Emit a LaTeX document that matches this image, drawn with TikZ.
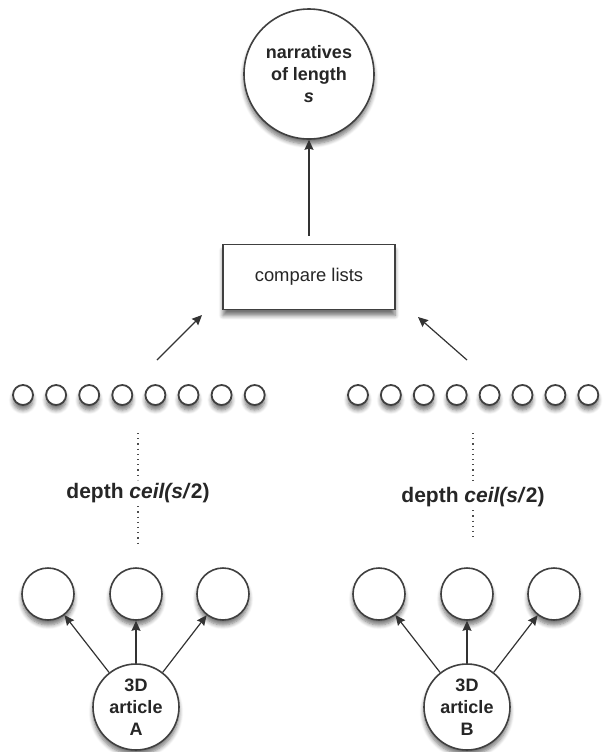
\documentclass[tikz,border=0pt]{standalone}
\usepackage{fontspec}
\setmainfont{Liberation Sans}
\usetikzlibrary{arrows.meta,shadows.blur}

\newcommand{\bubbletext}{\fontsize{9}{11}\selectfont\bfseries}

\begin{document}
\begin{tikzpicture}[x=0.5pt,y=-0.5pt,
        bubble/.style={circle,draw=black!75,line width=0.8pt,fill=white,inner sep=0pt,
            align=center,text=black!85,font=\bubbletext,
            blur shadow={shadow xshift=0pt,shadow yshift=-2.5pt,shadow blur steps=6,shadow opacity=55}},
        dot/.style={bubble,line width=0.9pt,minimum size=10pt},
        child/.style={bubble,minimum size=26pt},
        listbox/.style={rectangle,draw=black!75,line width=0.8pt,fill=white,
            minimum width=86pt,minimum height=32.5pt,text=black!85,
            font=\fontsize{9.2}{11}\selectfont,
            blur shadow={shadow xshift=0pt,shadow yshift=-3pt,shadow blur steps=6,shadow opacity=55}},
        depthlabel/.style={text=black!85,font=\fontsize{10.5}{12}\selectfont\bfseries,inner sep=1.5pt},
        link/.style={-{Stealth[length=5pt,width=4.5pt,inset=0.6pt]},draw=black!80,line width=0.6pt},
        levels/.style={dotted,draw=black!70,line width=0.6pt}]
    \useasboundingbox (0,0) rectangle (602,752);

    \node [bubble,minimum size=65pt] (narr) at (309,74) {narratives\\of length\\\textit{s}};
    \node [listbox] (cmp) at (309,277) {compare lists};
    \draw [link,shorten <=4pt] (cmp) -- (narr);

    \foreach \i in {0,...,7} {
        \node [dot] (rowA\i) at (23+33.1*\i,395) {};
        \node [dot] (rowB\i) at (358+32.9*\i,395) {};
    }

    \coordinate (fromA) at (157,360);
    \coordinate (toA) at (202,315);
    \coordinate (fromB) at (467,360);
    \coordinate (toB) at (418,317);
    \draw [link] (fromA) -- (toA);
    \draw [link] (fromB) -- (toB);

    \node [depthlabel] (depthA) at (138,493) {depth \textit{ceil(s/}2)};
    \node [depthlabel] (depthB) at (473,497) {depth \textit{ceil(s/}2)};
    \coordinate (topA) at (138,433);
    \coordinate (botA) at (138,543);
    \coordinate (topB) at (473,433);
    \coordinate (botB) at (473,541);
    \draw [levels] (topA) -- (depthA.north);
    \draw [levels] (depthA.south) -- (botA);
    \draw [levels] (topB) -- (depthB.north);
    \draw [levels] (depthB.south) -- (botB);

    \node [child] (left0) at (48,594) {};
    \node [child] (left1) at (136,594) {};
    \node [child] (left2) at (223,594) {};
    \node [bubble,minimum size=43pt] (artA) at (136,707) {3D\\article\\A};
    \foreach \c in {left0,left1,left2}
        \draw [link] (artA) -- (\c);

    \node [child] (right0) at (379,594) {};
    \node [child] (right1) at (467,594) {};
    \node [child] (right2) at (554,594) {};
    \node [bubble,minimum size=43pt] (artB) at (467,707) {3D\\article\\B};
    \foreach \c in {right0,right1,right2}
        \draw [link] (artB) -- (\c);
\end{tikzpicture}
\end{document}
